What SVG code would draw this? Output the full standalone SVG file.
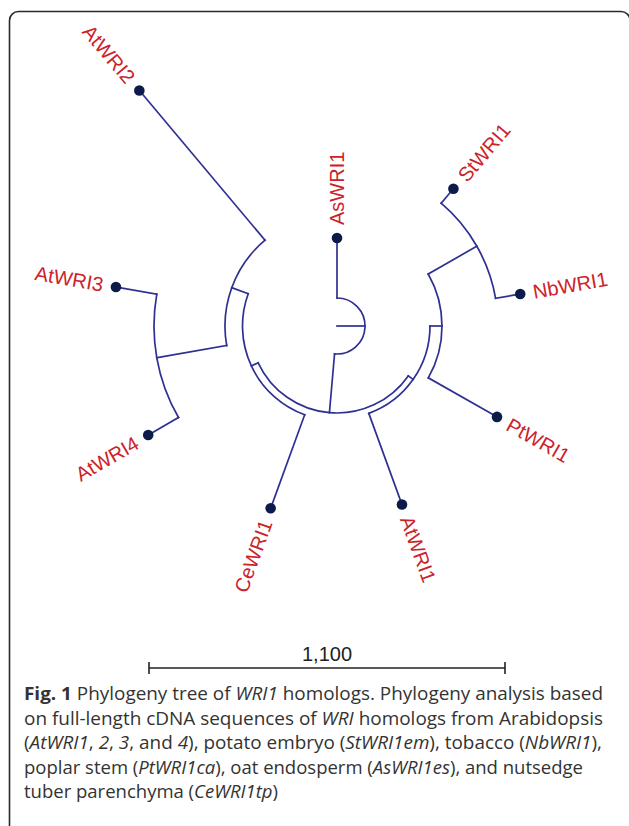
<svg xmlns="http://www.w3.org/2000/svg" width="629" height="826" viewBox="0 0 629 826">
  <style>
    .frame { fill: none; stroke: #2a2a2a; stroke-width: 1.6; }
    .edge { fill: none; stroke: #2e3192; stroke-width: 1.7; stroke-linecap: square; }
    .tip { fill: #0d1b4b; }
    .lbl { font-family: "Liberation Sans", Arial, sans-serif; font-size: 20px; fill: #cc2229; }
    .scale { fill: none; stroke: #222; stroke-width: 1.6; }
    .scaletext { font-family: "Liberation Sans", Arial, sans-serif; font-size: 20px; fill: #222; }
    .cap { font-family: "Open Sans", "Noto Sans", sans-serif; font-size: 18px; fill: #333; }
    .it { font-style: italic; }
    .bd { font-weight: bold; }
  </style>

  <!-- page frame (open at the bottom) -->
  <path class="frame" d="M9.5,826 V20.5 A9,9 0 0 1 18.5,11.5 H621 A9,9 0 0 1 630,20.5 V826"/>

  <!-- circular cladogram, centred on the root -->
  <g transform="translate(337,326)">
    <g id="connectors">
      <!-- root stub and root arc -->
      <path class="edge" d="M0,0 L28,0"/>
      <path class="edge" d="M0,-28 A28,28 0 1 1 -2.44,27.89"/>
      <!-- AsWRI1 -->
      <path class="edge" d="M0,-28 L0,-88"/>
      <!-- core clade node -->
      <path class="edge" d="M-2.44,27.89 L-7.58,86.67"/>
      <path class="edge" d="M71.27,49.90 A87,87 0 0 1 -78.85,36.77"/>
      <!-- dicot clade: AtWRI1 + (PtWRI1, (StWRI1, NbWRI1)) -->
      <path class="edge" d="M71.27,49.90 L76.18,53.34"/>
      <path class="edge" d="M93,0 A93,93 0 0 1 31.81,87.39"/>
      <path class="edge" d="M31.81,87.39 L64.98,178.54"/>
      <path class="edge" d="M93,0 L105,0"/>
      <path class="edge" d="M91.20,-52.03 A105,105 0 0 1 91.30,51.86"/>
      <path class="edge" d="M91.30,51.86 L160.00,90.88"/>
      <path class="edge" d="M91.20,-52.03 L139.85,-79.78"/>
      <path class="edge" d="M104.13,-122.79 A161,161 0 0 1 158.60,-27.68"/>
      <path class="edge" d="M104.13,-122.79 L116.42,-137.29"/>
      <path class="edge" d="M158.60,-27.68 L183.23,-31.98"/>
      <!-- Arabidopsis paralogs + CeWRI1 -->
      <path class="edge" d="M-78.85,36.77 L-85.65,39.94"/>
      <path class="edge" d="M-32.32,88.80 A94.5,94.5 0 0 1 -88.80,-32.32"/>
      <path class="edge" d="M-32.32,88.80 L-66.35,182.30"/>
      <path class="edge" d="M-88.80,-32.32 L-105.25,-38.31"/>
      <path class="edge" d="M-110.30,19.45 A112,112 0 0 1 -71.99,-85.80"/>
      <path class="edge" d="M-71.99,-85.80 L-197.66,-235.56"/>
      <path class="edge" d="M-110.30,19.45 L-180.22,31.78"/>
      <path class="edge" d="M-158.48,91.50 A183,183 0 0 1 -180.22,-31.78"/>
      <path class="edge" d="M-180.22,-31.78 L-221.09,-38.98"/>
      <path class="edge" d="M-158.48,91.50 L-188.79,109.00"/>
    </g>

    <g id="AsWRI1">
      <circle class="tip" cx="0" cy="-88" r="5.3"/>
      <text class="lbl" transform="translate(0,-101) rotate(-90)" dy="0.35em">AsWRI1</text>
    </g>
    <g id="StWRI1">
      <circle class="tip" cx="116.42" cy="-137.29" r="5.3"/>
      <text class="lbl" transform="translate(124.83,-147.20) rotate(-49.7)" dy="0.35em">StWRI1</text>
    </g>
    <g id="NbWRI1">
      <circle class="tip" cx="183.23" cy="-31.98" r="5.3"/>
      <text class="lbl" transform="translate(196.04,-34.21) rotate(-9.9)" dy="0.35em">NbWRI1</text>
    </g>
    <g id="PtWRI1">
      <circle class="tip" cx="160.00" cy="90.88" r="5.3"/>
      <text class="lbl" transform="translate(171.29,97.30) rotate(29.6)" dy="0.35em">PtWRI1</text>
    </g>
    <g id="AtWRI1">
      <circle class="tip" cx="64.98" cy="178.54" r="5.3"/>
      <text class="lbl" transform="translate(69.43,190.76) rotate(70)" dy="0.35em">AtWRI1</text>
    </g>
    <g id="CeWRI1">
      <circle class="tip" cx="-66.35" cy="182.30" r="5.3"/>
      <text class="lbl" transform="translate(-70.80,194.52) rotate(-70)" dy="0.35em" text-anchor="end">CeWRI1</text>
    </g>
    <g id="AtWRI4">
      <circle class="tip" cx="-188.79" cy="109.00" r="5.3"/>
      <text class="lbl" transform="translate(-200.05,115.50) rotate(-30)" dy="0.35em" text-anchor="end">AtWRI4</text>
    </g>
    <g id="AtWRI3">
      <circle class="tip" cx="-221.09" cy="-38.98" r="5.3"/>
      <text class="lbl" transform="translate(-233.89,-41.24) rotate(10)" dy="0.35em" text-anchor="end">AtWRI3</text>
    </g>
    <g id="AtWRI2">
      <circle class="tip" cx="-197.66" cy="-235.56" r="5.3"/>
      <text class="lbl" transform="translate(-206.02,-245.52) rotate(50)" dy="0.35em" text-anchor="end">AtWRI2</text>
    </g>
  </g>

  <!-- scale bar -->
  <g id="scalebar">
    <path class="scale" d="M149,668 H505 M149,662 V674 M505,662 V674"/>
    <text class="scaletext" x="327" y="661" text-anchor="middle">1,100</text>
  </g>

  <!-- figure caption -->
  <g id="caption">
    <text class="cap" x="24" y="700" textLength="579" lengthAdjust="spacingAndGlyphs"><tspan class="bd">Fig. 1</tspan> Phylogeny tree of <tspan class="it">WRI1</tspan> homologs. Phylogeny analysis based</text>
    <text class="cap" x="24" y="724.5" textLength="579" lengthAdjust="spacingAndGlyphs">on full-length cDNA sequences of <tspan class="it">WRI</tspan> homologs from Arabidopsis</text>
    <text class="cap" x="24" y="749" textLength="578" lengthAdjust="spacingAndGlyphs">(<tspan class="it">AtWRI1</tspan>, <tspan class="it">2</tspan>, <tspan class="it">3</tspan>, and <tspan class="it">4</tspan>), potato embryo (<tspan class="it">StWRI1em</tspan>), tobacco (<tspan class="it">NbWRI1</tspan>),</text>
    <text class="cap" x="24" y="773.5" textLength="559" lengthAdjust="spacingAndGlyphs">poplar stem (<tspan class="it">PtWRI1ca</tspan>), oat endosperm (<tspan class="it">AsWRI1es</tspan>), and nutsedge</text>
    <text class="cap" x="24" y="798" textLength="254" lengthAdjust="spacingAndGlyphs">tuber parenchyma (<tspan class="it">CeWRI1tp</tspan>)</text>
  </g>
</svg>
